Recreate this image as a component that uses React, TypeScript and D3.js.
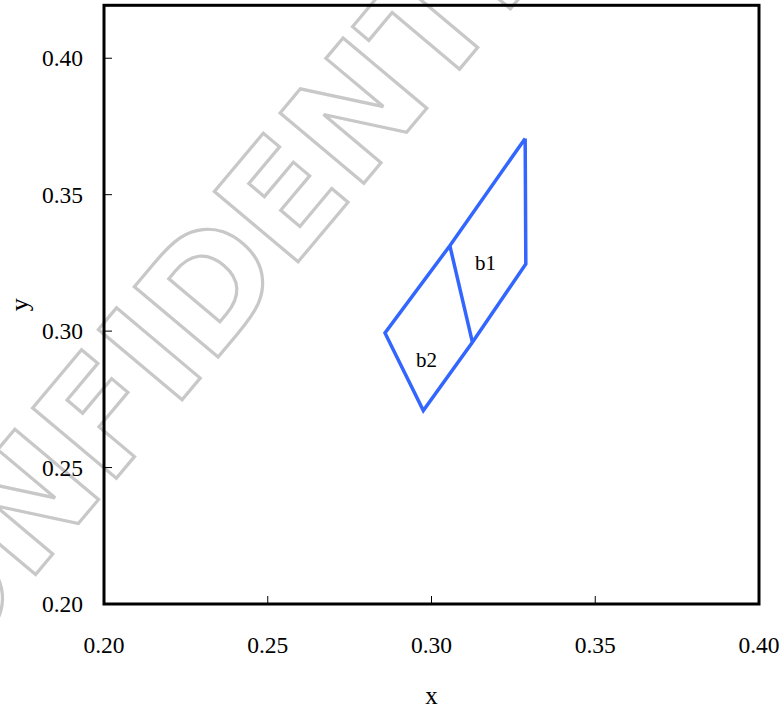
import React from "react";
import * as d3 from "d3";

const polyX: number[] = [0.3286, 0.3288, 0.3125, 0.2975, 0.2858, 0.3056, 0.3286];
const polyY: number[] = [0.3706, 0.3246, 0.2959, 0.2709, 0.2993, 0.3313, 0.3706];
const dividerX: number[] = [0.3056, 0.3125];
const dividerY: number[] = [0.3313, 0.2959];
const regionLabels: string[] = ["b1", "b2"];
const labelX: number[] = [0.3165, 0.2985];
const labelY: number[] = [0.3224, 0.2869];
const xTicks: number[] = [0.2, 0.25, 0.3, 0.35, 0.4];
const yTicks: number[] = [0.2, 0.25, 0.3, 0.35, 0.4];

const W = 783;
const H = 713;
const left = 104, right = 759, top = 5.3, bottom = 604;

export default function App() {
  const x = d3.scaleLinear().domain([0.2, 0.4]).range([left, right]);
  const y = d3.scaleLinear().domain([0.2, 0.4194]).range([bottom, top]);
  const line = d3.line<[number, number]>().x(d => x(d[0])).y(d => y(d[1]));
  const poly = polyX.map((v, i) => [v, polyY[i]] as [number, number]);
  const div = dividerX.map((v, i) => [v, dividerY[i]] as [number, number]);
  const serif = "'Liberation Serif', 'Times New Roman', serif";
  return (
    <svg width={W} height={H} style={{ position: "absolute", left: 0, top: 0, background: "#fff" }}>
      <rect x={0} y={0} width={W} height={H} fill="#fff" />
      <g transform="translate(-126,767) rotate(-50)">
        <text x={0} y={0} fontFamily="'DejaVu Sans', sans-serif" fontWeight="bold" fontSize={150} fill="none" stroke="#c8c8c8" strokeWidth={3.2}>CONFIDENTIAL</text>
      </g>
      <path d={line(poly) || ""} fill="none" stroke="#3366ff" strokeWidth={3.5} strokeLinejoin="miter" />
      <path d={line(div) || ""} fill="none" stroke="#3366ff" strokeWidth={3.5} />
      {regionLabels.map((t, i) => (
        <text key={t} x={x(labelX[i])} y={y(labelY[i])} fontFamily={serif} fontSize={21} textAnchor="middle" fill="#000">{t}</text>
      ))}
      {xTicks.map(t => (
        <g key={"x" + t}>
          <line x1={x(t)} x2={x(t)} y1={bottom} y2={bottom - 8} stroke="#000" strokeWidth={1} />
          <text x={x(t)} y={653} fontFamily={serif} fontSize={23.5} textAnchor="middle" fill="#000">{d3.format(".2f")(t)}</text>
        </g>
      ))}
      {yTicks.map(t => (
        <g key={"y" + t}>
          <line x1={left} x2={left + 8} y1={y(t)} y2={y(t)} stroke="#000" strokeWidth={1} />
          <text x={83} y={y(t) + 8} fontFamily={serif} fontSize={23.5} textAnchor="end" fill="#000">{d3.format(".2f")(t)}</text>
        </g>
      ))}
      <rect x={left} y={top} width={right - left} height={bottom - top} fill="none" stroke="#000" strokeWidth={3} />
      <text x={(left + right) / 2} y={704} fontFamily={serif} fontSize={25} textAnchor="middle" fill="#000">x</text>
      <text transform={`translate(28,${(top + bottom) / 2}) rotate(-90)`} fontFamily={serif} fontSize={26} textAnchor="middle" fill="#000">y</text>
    </svg>
  );
}
